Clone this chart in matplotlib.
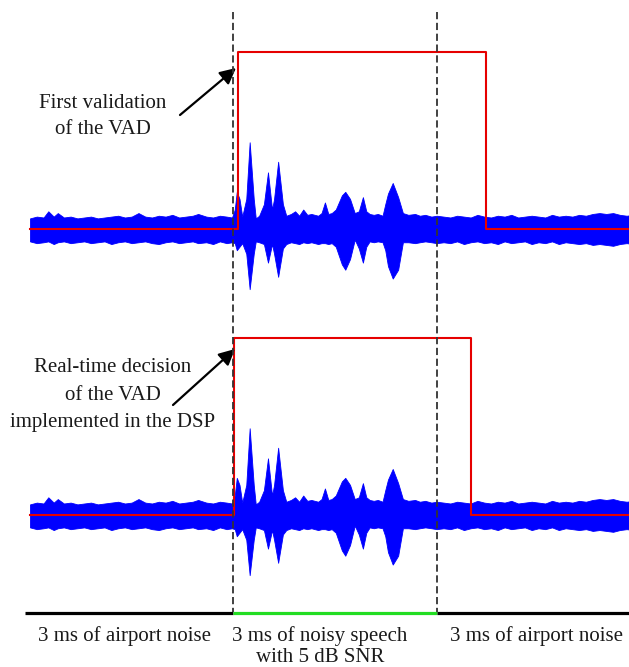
import numpy as np
import matplotlib
matplotlib.use("Agg")
import matplotlib.pyplot as plt

# envelope of the recorded signal (amplitude, VAD "on" level = 1.0)
# noise before the speech
t_noise1 = [0.00, 0.10, 0.20, 0.27, 0.35, 0.41, 0.50, 0.60, 0.70, 0.80, 0.90,
            1.00, 1.10, 1.20, 1.30, 1.40, 1.50, 1.60, 1.70, 1.80, 1.90, 2.00,
            2.10, 2.20, 2.30, 2.40, 2.48, 2.60, 2.70, 2.80, 2.90, 2.98]
up_noise1 = [0.06, 0.07, 0.065, 0.10, 0.07, 0.09, 0.065, 0.07, 0.06, 0.065, 0.07,
             0.06, 0.065, 0.07, 0.075, 0.065, 0.07, 0.09, 0.07, 0.065, 0.075, 0.07,
             0.08, 0.065, 0.07, 0.075, 0.085, 0.07, 0.065, 0.075, 0.07, 0.065]
lo_noise1 = [0.07, 0.08, 0.075, 0.07, 0.085, 0.075, 0.07, 0.08, 0.075, 0.07, 0.08,
             0.075, 0.07, 0.085, 0.075, 0.07, 0.08, 0.075, 0.07, 0.08, 0.085, 0.075,
             0.07, 0.08, 0.075, 0.07, 0.08, 0.075, 0.085, 0.07, 0.08, 0.075]

# noisy speech
t_speech = [3.02, 3.05, 3.09, 3.13, 3.19, 3.24, 3.30, 3.33, 3.38, 3.45, 3.51, 3.57,
            3.60, 3.66, 3.73, 3.78, 3.85, 3.91, 3.97, 4.03, 4.09, 4.15, 4.25, 4.30,
            4.35, 4.40, 4.45, 4.51, 4.60, 4.65, 4.72, 4.79, 4.85, 4.91, 4.96, 5.01,
            5.07, 5.13, 5.20, 5.24, 5.28, 5.35, 5.43, 5.50, 5.58, 5.68, 5.75, 5.83,
            5.92, 6.00]
up_speech = [0.11, 0.21, 0.17, 0.07, 0.17, 0.49, 0.17, 0.06, 0.075, 0.14, 0.32, 0.11,
             0.17, 0.38, 0.14, 0.075, 0.085, 0.10, 0.075, 0.11, 0.08, 0.085, 0.075, 0.09,
             0.15, 0.085, 0.09, 0.11, 0.19, 0.21, 0.17, 0.09, 0.10, 0.18, 0.10, 0.085,
             0.08, 0.085, 0.075, 0.14, 0.20, 0.26, 0.18, 0.09, 0.08, 0.085, 0.075, 0.08,
             0.07, 0.075]
lo_speech = [0.08, 0.12, 0.10, 0.08, 0.14, 0.34, 0.14, 0.07, 0.075, 0.085, 0.19, 0.085,
             0.14, 0.27, 0.11, 0.085, 0.075, 0.08, 0.085, 0.075, 0.08, 0.075, 0.085, 0.08,
             0.08, 0.085, 0.08, 0.10, 0.20, 0.23, 0.17, 0.06, 0.11, 0.19, 0.10, 0.07,
             0.075, 0.07, 0.075, 0.12, 0.21, 0.28, 0.23, 0.075, 0.075, 0.08, 0.075, 0.07,
             0.075, 0.08]

# noise after the speech
t_noise2 = [6.1, 6.2, 6.3, 6.4, 6.5, 6.6, 6.7, 6.8, 6.9, 7.0, 7.1, 7.2, 7.3, 7.4, 7.5,
            7.6, 7.7, 7.8, 7.9, 8.0, 8.1, 8.2, 8.3, 8.4, 8.5, 8.6, 8.7, 8.8, 8.9]
up_noise2 = [0.07, 0.065, 0.075, 0.07, 0.065, 0.08, 0.07, 0.065, 0.075, 0.07, 0.08,
             0.065, 0.07, 0.075, 0.07, 0.065, 0.08, 0.07, 0.075, 0.07, 0.08, 0.075,
             0.085, 0.09, 0.085, 0.09, 0.08, 0.075, 0.08]
lo_noise2 = [0.075, 0.08, 0.07, 0.085, 0.075, 0.07, 0.08, 0.075, 0.085, 0.07, 0.08,
             0.075, 0.07, 0.085, 0.075, 0.08, 0.07, 0.085, 0.075, 0.08, 0.085, 0.08,
             0.09, 0.085, 0.09, 0.095, 0.085, 0.08, 0.085]

# VAD decisions (on / off times in ms)
vad_first = (3.07, 6.72)
vad_dsp = (3.01, 6.51)

seg_bounds = [0.0, 3.0, 6.0, 9.0]
seg_labels = [["3 ms of airport noise"],
              ["3 ms of noisy speech", "with 5 dB SNR"],
              ["3 ms of airport noise"]]
note_first = ["First validation", "of the VAD"]
note_dsp = ["Real-time decision", "of the VAD", "implemented in the DSP"]

t = np.array(t_noise1 + t_speech + t_noise2)
up = np.array(up_noise1 + up_speech + up_noise2)
lo = np.array(lo_noise1 + lo_speech + lo_noise2)

W, H = 629, 667
fig = plt.figure(figsize=(W / 100, H / 100), dpi=100)
ax = fig.add_axes([0, 0, 1, 1])
ax.set_xlim(-30 / 67.8, (W - 30) / 67.8)
ax.set_ylim(H, 0)
ax.axis("off")

scale = 177

for base, (on, off) in [(229, vad_first), (515, vad_dsp)]:
    ax.fill_between(t, base - scale * up, base + scale * lo, color="#0000ff",
                    lw=0.6, zorder=2)
    ax.plot([0, on, on, off, off, 9.0],
            np.array([0, 0, 1, 1, 0, 0]) * -scale + base,
            color="#e60000", lw=1.5, zorder=3)

for x in seg_bounds[1:3]:
    ax.plot([x, x], [12, 612], color="#333333", lw=1.3, dashes=(4, 2), zorder=4)

colors = ["black", "#22dd22", "black"]
for i in range(3):
    x0 = -0.07 if i == 0 else seg_bounds[i]
    ax.plot([x0, seg_bounds[i + 1]], [613, 613], color=colors[i], lw=2.3,
            solid_capstyle="butt", zorder=5)

txt = dict(fontsize=15, color="#1a1a1a", ha="center", va="center",
           family="Liberation Serif")


def lines(x, ys, texts):
    for y, s in zip(ys, texts):
        fig.text(x / W, 1 - y / H, s, **txt)


lines(125, [636], seg_labels[0])
lines(320, [636, 657], seg_labels[1])
lines(536, [636], seg_labels[2])
lines(103, [103, 129], note_first)
lines(113, [368, 395, 422], note_dsp)

arrow = dict(arrowstyle="-|>", mutation_scale=24, lw=1.6, color="black",
             shrinkA=0, shrinkB=0)
ax.annotate("", xy=(236, H - 68), xytext=(180, H - 115),
            xycoords="figure pixels", textcoords="figure pixels", arrowprops=arrow)
ax.annotate("", xy=(235, H - 349), xytext=(173, H - 405),
            xycoords="figure pixels", textcoords="figure pixels", arrowprops=arrow)

fig.savefig("out.png", dpi=100)
